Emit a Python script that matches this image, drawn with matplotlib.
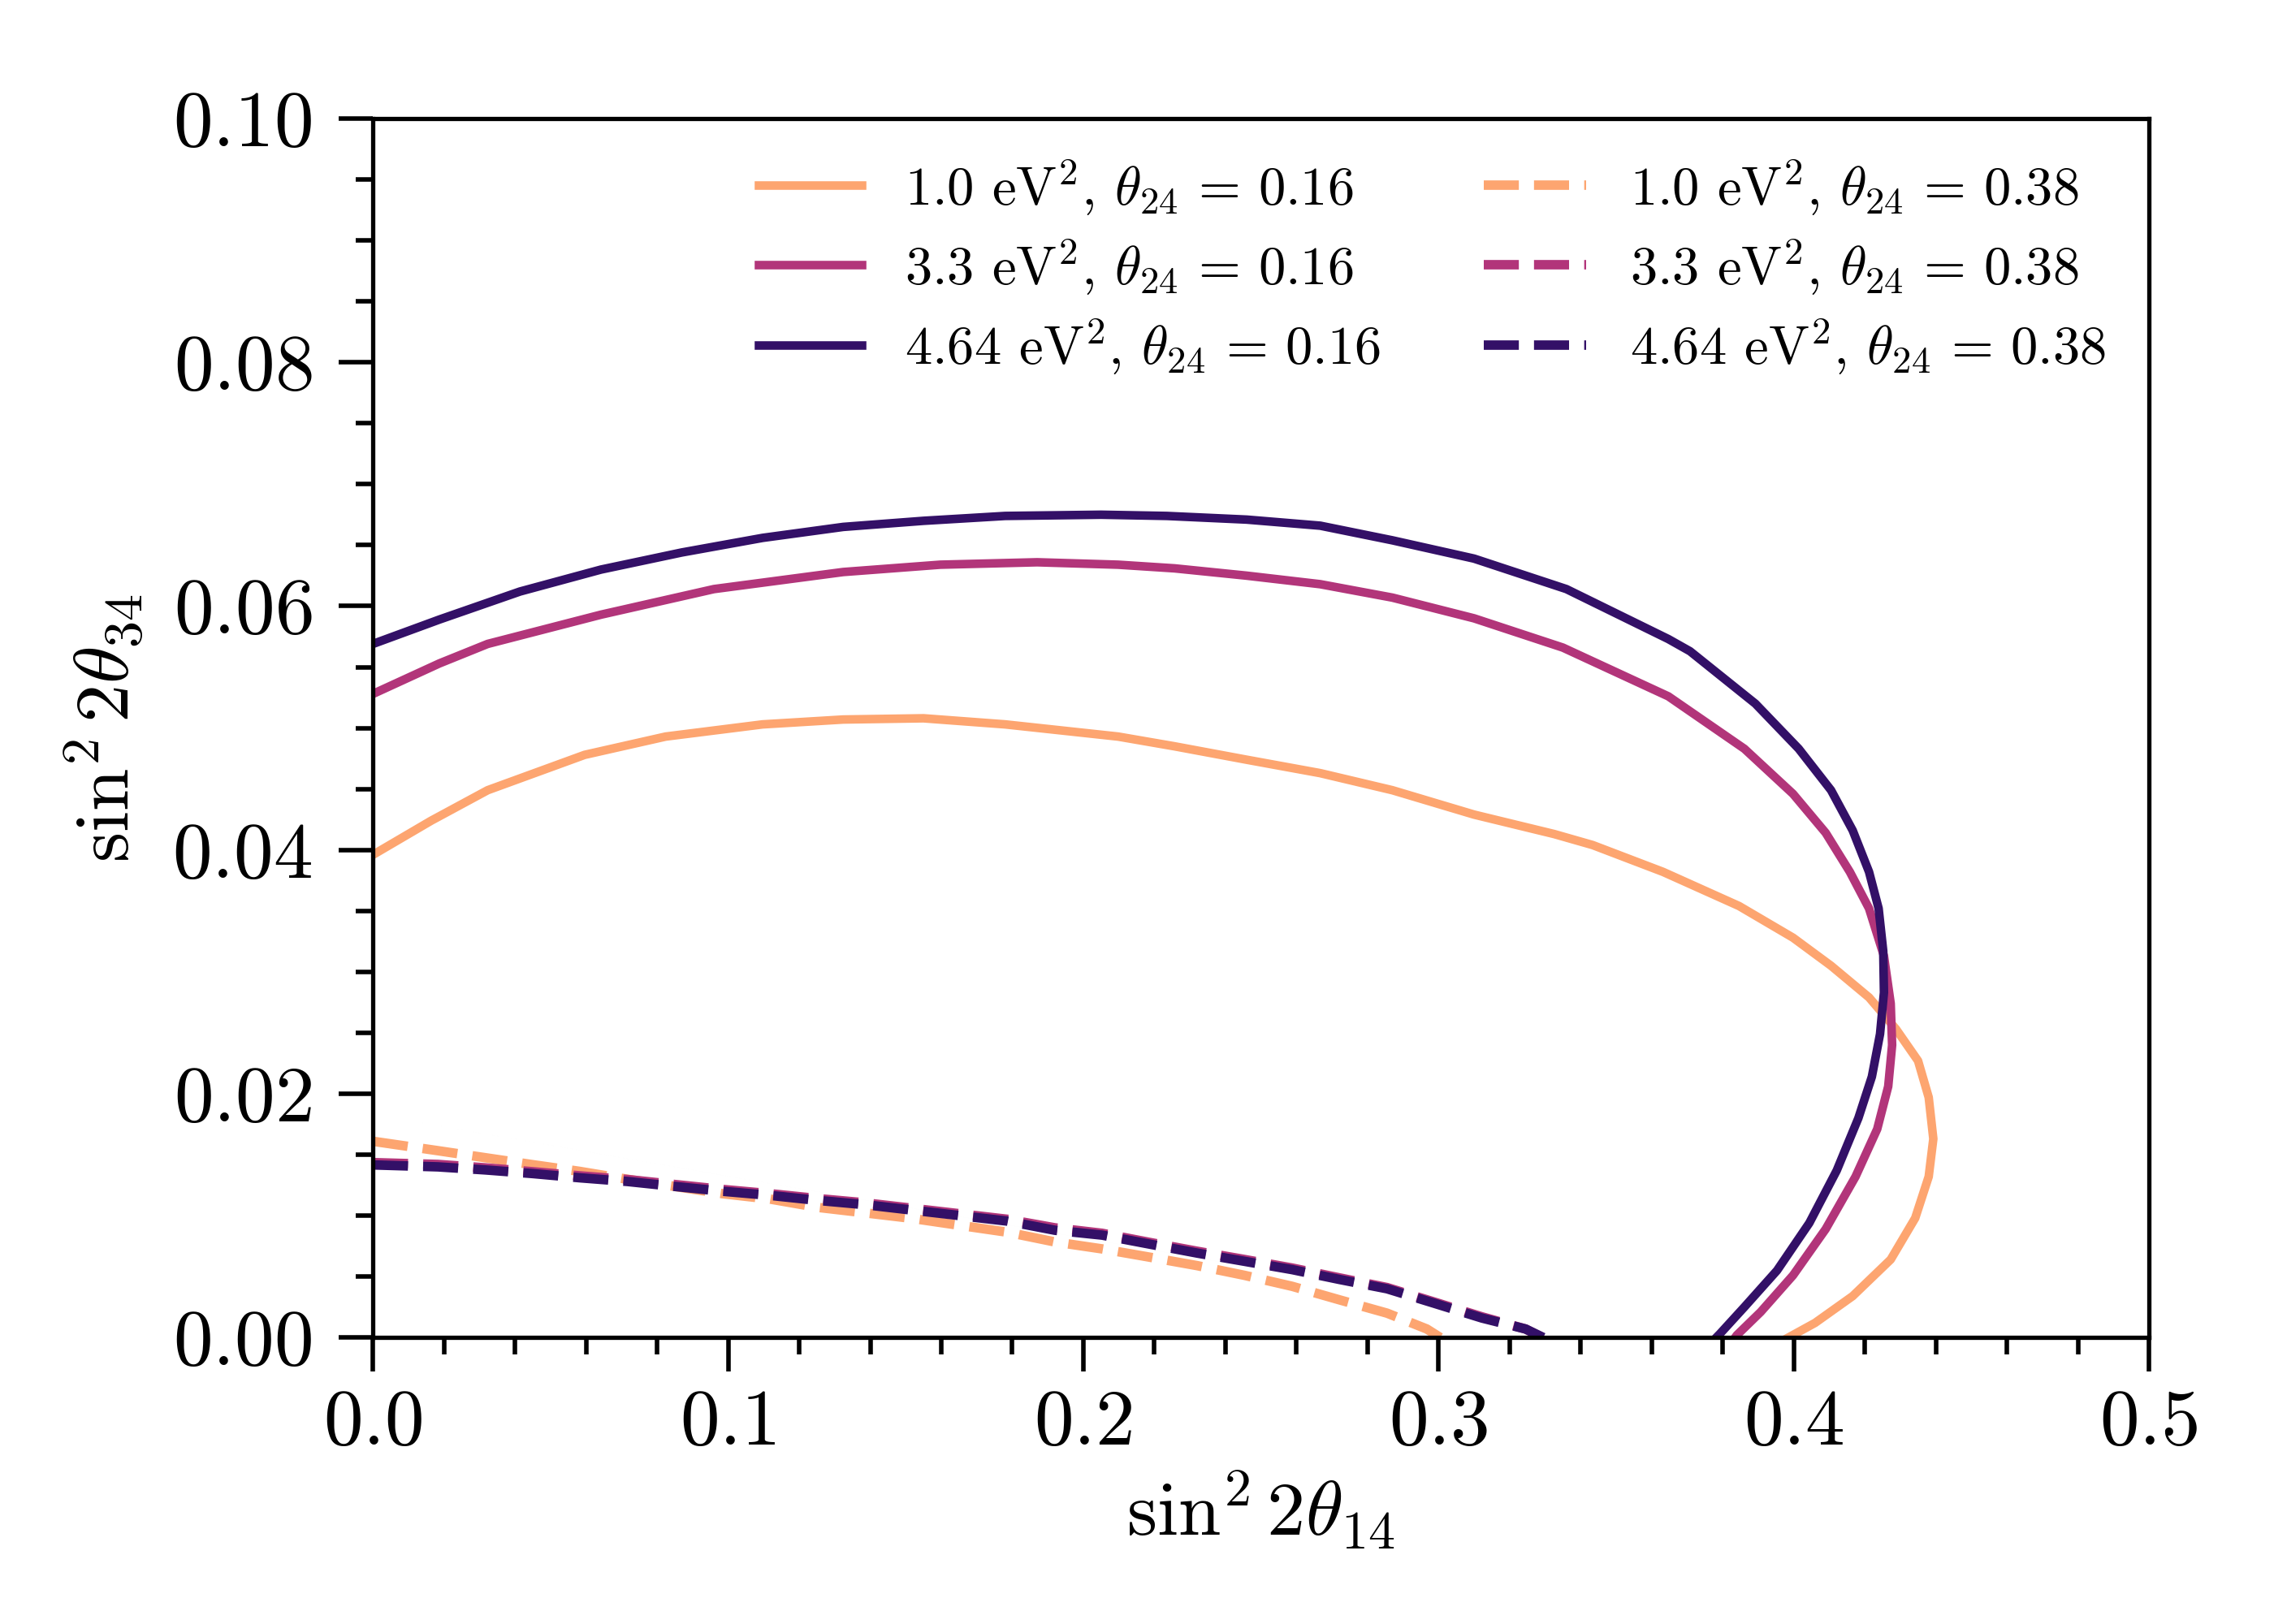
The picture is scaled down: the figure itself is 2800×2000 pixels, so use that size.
import matplotlib
matplotlib.use("Agg")
import matplotlib.pyplot as plt
from matplotlib.ticker import MultipleLocator

plt.rcParams['mathtext.fontset'] = 'cm'
plt.rcParams['font.family'] = 'serif'
plt.rcParams['font.serif'] = ['cmr10', 'DejaVu Serif']
plt.rcParams['axes.formatter.use_mathtext'] = True

# ---- data ----
dark_solid_x = [0.0, 0.0187, 0.0414, 0.0642, 0.0869, 0.1097, 0.1324, 0.155, 0.178, 0.205, 0.2235,
                0.246, 0.2667, 0.287, 0.310, 0.336, 0.3647, 0.3708, 0.3892, 0.4014, 0.4105, 0.4166,
                0.4212, 0.4239, 0.4252, 0.4254, 0.4243, 0.422, 0.4182, 0.4121, 0.4044, 0.3953,
                0.3861, 0.3792, 0.3782]
dark_solid_y = [0.0569, 0.0589, 0.0612, 0.0630, 0.0644, 0.0656, 0.0665, 0.0670, 0.0674, 0.0675, 0.0674,
                0.0671, 0.0666, 0.0654, 0.0639, 0.0614, 0.0573, 0.0563, 0.0520, 0.0483, 0.0449, 0.0416,
                0.0382, 0.0352, 0.0317, 0.0283, 0.0249, 0.0214, 0.0180, 0.0137, 0.0094, 0.0055,
                0.0025, 0.0003, 0.0]

mag_solid_x = [0.0, 0.0187, 0.0323, 0.0642, 0.096, 0.1324, 0.1597, 0.187, 0.2098, 0.2257, 0.246,
               0.2667, 0.287, 0.310, 0.335, 0.3647, 0.3861, 0.3998, 0.409, 0.4158, 0.4212, 0.4254,
               0.4273, 0.4277, 0.4266, 0.4235, 0.4174, 0.409, 0.3998, 0.3907, 0.3840, 0.3835]
mag_solid_y = [0.0528, 0.0553, 0.0569, 0.0593, 0.0614, 0.0628, 0.0634, 0.0636, 0.0634, 0.0631, 0.0625,
               0.0618, 0.0607, 0.0590, 0.0566, 0.0526, 0.0483, 0.0446, 0.0414, 0.0382, 0.0352, 0.0313,
               0.0274, 0.0240, 0.0206, 0.0171, 0.0132, 0.0089, 0.0051, 0.0021, 0.0002, 0.0]

org_solid_x = [0.0, 0.0164, 0.0323, 0.0596, 0.0824, 0.1097, 0.1324, 0.155, 0.178, 0.2098, 0.2257,
               0.246, 0.2667, 0.287, 0.310, 0.3326, 0.3434, 0.3632, 0.3846, 0.3998, 0.4105, 0.4212,
               0.4288, 0.435, 0.438, 0.4393, 0.438, 0.4342, 0.4273, 0.4166, 0.4060, 0.3985]
org_solid_y = [0.0396, 0.0424, 0.0449, 0.0478, 0.0493, 0.0503, 0.0507, 0.0508, 0.0503, 0.0493, 0.0485,
               0.0474, 0.0463, 0.0449, 0.0429, 0.0413, 0.0404, 0.0382, 0.0354, 0.0328, 0.0305, 0.0279,
               0.0253, 0.0227, 0.0197, 0.0163, 0.0132, 0.0098, 0.0064, 0.0034, 0.0012, 0.0]

org_dash_x = [0.0, 0.018, 0.0312, 0.0445, 0.058, 0.0713, 0.0851, 0.0984, 0.1118, 0.1252, 0.1385,
              0.1519, 0.1653, 0.1786, 0.192, 0.2053, 0.2187, 0.232, 0.2454, 0.2588, 0.272, 0.2855,
              0.2967, 0.3005]
org_dash_y = [0.0161, 0.01534, 0.01477, 0.0142, 0.01364, 0.0130, 0.01239, 0.0118, 0.01136, 0.01068,
              0.01023, 0.00977, 0.0092, 0.00864, 0.00784, 0.00727, 0.00659, 0.0059, 0.0051, 0.0042,
              0.0031, 0.0020, 0.0007, 0.0]

mag_dash_x = [0.0, 0.0183, 0.0316, 0.045, 0.0584, 0.0717, 0.0851, 0.0984, 0.1118, 0.1252, 0.1385,
              0.1519, 0.1653, 0.1786, 0.192, 0.2053, 0.2187, 0.232, 0.2454, 0.2588, 0.272, 0.2855,
              0.2989, 0.3122, 0.3245, 0.3292]
mag_dash_y = [0.01435, 0.0142, 0.01392, 0.0136, 0.01326, 0.01296, 0.01255, 0.01215, 0.0118, 0.0114,
              0.01105, 0.0106, 0.01015, 0.0097, 0.0090, 0.00855, 0.0078, 0.00708, 0.0064, 0.0057,
              0.0049, 0.0041, 0.0029, 0.0017, 0.0007, 0.0]

dark_dash_x = [0.0, 0.0183, 0.0316, 0.045, 0.0584, 0.0717, 0.0851, 0.0984, 0.1118, 0.1252, 0.1385,
               0.1519, 0.1653, 0.1786, 0.192, 0.2053, 0.2187, 0.232, 0.2454, 0.2588, 0.272, 0.2855,
               0.2989, 0.3122, 0.3245, 0.3295]
dark_dash_y = [0.01416, 0.0140, 0.01375, 0.01345, 0.0131, 0.0128, 0.01239, 0.0120, 0.01166, 0.01125,
               0.0109, 0.01045, 0.0100, 0.00955, 0.00880, 0.0084, 0.00766, 0.00693, 0.00625, 0.00557,
               0.00477, 0.0040, 0.0028, 0.0016, 0.0007, 0.0]

labels_solid = [r'1.0 eV$^2$, $\theta_{24} \,=\, 0.16$',
                r'3.3 eV$^2$, $\theta_{24} \,=\, 0.16$',
                r'4.64 eV$^2$, $\theta_{24} \,=\, 0.16$']
labels_dash = [r'1.0 eV$^2$, $\theta_{24} \,=\, 0.38$',
               r'3.3 eV$^2$, $\theta_{24} \,=\, 0.38$',
               r'4.64 eV$^2$, $\theta_{24} \,=\, 0.38$']

xticks = [0.0, 0.1, 0.2, 0.3, 0.4, 0.5]
xtick_labels = [r'$0.0$', r'$0.1$', r'$0.2$', r'$0.3$', r'$0.4$', r'$0.5$']
yticks = [0.00, 0.02, 0.04, 0.06, 0.08, 0.10]
ytick_labels = [r'$0.00$', r'$0.02$', r'$0.04$', r'$0.06$', r'$0.08$', r'$0.10$']

colors = ['#FDA570', '#B2357A', '#331067']

fig = plt.figure(figsize=(7, 5), dpi=400)
ax = fig.add_axes([0.164, 0.1764, 0.781, 0.7506])

lw_s = 1.9
lw_d = 2.1
h1, = ax.plot(org_solid_x, org_solid_y, color=colors[0], lw=lw_s, label=labels_solid[0])
h2, = ax.plot(mag_solid_x, mag_solid_y, color=colors[1], lw=lw_s, label=labels_solid[1])
h3, = ax.plot(dark_solid_x, dark_solid_y, color=colors[2], lw=lw_s, label=labels_solid[2])
h4, = ax.plot(org_dash_x, org_dash_y, color=colors[0], lw=lw_d, ls='--', label=labels_dash[0])
h5, = ax.plot(mag_dash_x, mag_dash_y, color=colors[1], lw=lw_d, ls='--', label=labels_dash[1])
h6, = ax.plot(dark_dash_x, dark_dash_y, color=colors[2], lw=lw_d, ls='--', label=labels_dash[2])

ax.set_xlim(0, 0.5)
ax.set_ylim(0, 0.1)
ax.set_xticks(xticks)
ax.set_xticklabels(xtick_labels)
ax.set_yticks(yticks)
ax.set_yticklabels(ytick_labels)
ax.xaxis.set_minor_locator(MultipleLocator(0.02))
ax.yaxis.set_minor_locator(MultipleLocator(0.005))
ax.tick_params(which='major', direction='out', length=7.5, width=1.0, labelsize=17.5)
ax.tick_params(axis='x', which='major', pad=4)
ax.tick_params(axis='y', which='major', pad=6)
ax.tick_params(which='minor', direction='out', length=3.8, width=1.0)
for s in ax.spines.values():
    s.set_linewidth(0.95)

ax.set_xlabel(r'$\sin^2 2\theta_{14}$', fontsize=17, labelpad=2)
ax.set_ylabel(r'$\sin^2 2\theta_{34}$', fontsize=17, labelpad=6)

ax.legend(handles=[h1, h2, h3, h4, h5, h6], ncol=2, loc='upper right', frameon=False,
          fontsize=12, handlelength=1.9, handletextpad=0.8, columnspacing=1.9,
          labelspacing=0.38, bbox_to_anchor=(1.003, 1.008))

fig.savefig('out.png', dpi=400)
